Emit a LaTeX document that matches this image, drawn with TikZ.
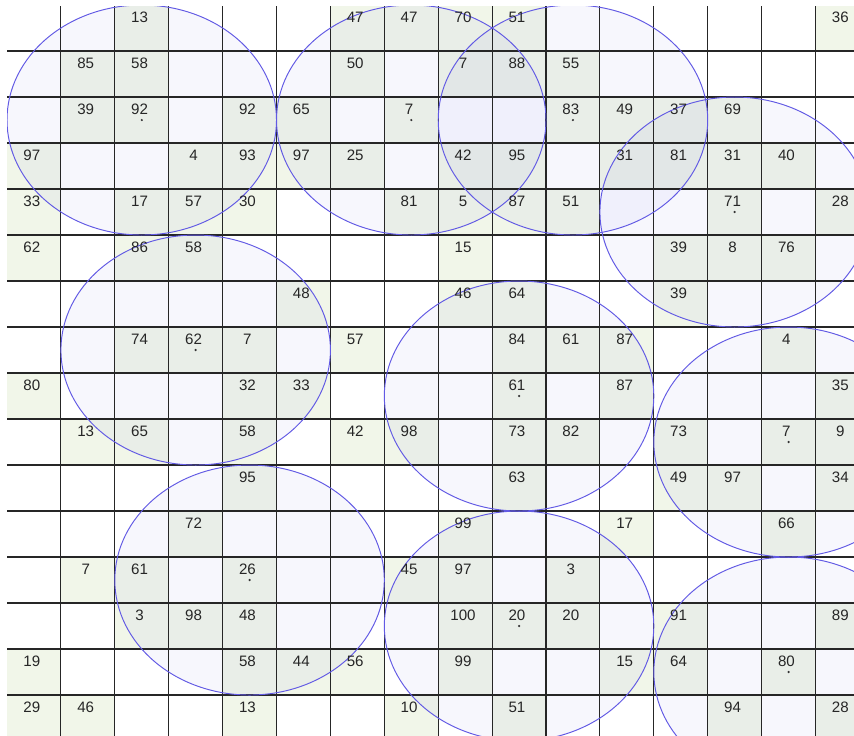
\documentclass[tikz,border=0pt]{standalone}
\usepackage{xcolor}
\usepackage{fontspec}
\setmainfont{Liberation Sans}
\usepackage{tikz}
\definecolor{cellgreen}{RGB}{241,246,233}
\definecolor{ringblue}{RGB}{98,90,228}
\definecolor{ringfill}{RGB}{120,120,225}
\tikzset{every node/.append style={font=\fontsize{8.6}{10}\selectfont}}
% column/row/value of every filled cell
\newcommand{\cellvalues}{2/0/13, 6/0/47, 7/0/47, 8/0/70, 9/0/51, 15/0/36,
  1/1/85, 2/1/58, 6/1/50, 8/1/7, 9/1/88, 10/1/55,
  1/2/39, 2/2/92, 4/2/92, 5/2/65, 7/2/7, 10/2/83, 11/2/49, 12/2/37, 13/2/69,
  0/3/97, 3/3/4, 4/3/93, 5/3/97, 6/3/25, 8/3/42, 9/3/95, 11/3/31, 12/3/81, 13/3/31, 14/3/40,
  0/4/33, 2/4/17, 3/4/57, 4/4/30, 7/4/81, 8/4/5, 9/4/87, 10/4/51, 13/4/71, 15/4/28,
  0/5/62, 2/5/86, 3/5/58, 8/5/15, 12/5/39, 13/5/8, 14/5/76,
  5/6/48, 8/6/46, 9/6/64, 12/6/39,
  2/7/74, 3/7/62, 4/7/7, 6/7/57, 9/7/84, 10/7/61, 11/7/87, 14/7/4,
  0/8/80, 4/8/32, 5/8/33, 9/8/61, 11/8/87, 15/8/35,
  1/9/13, 2/9/65, 4/9/58, 6/9/42, 7/9/98, 9/9/73, 10/9/82, 12/9/73, 14/9/7, 15/9/9,
  4/10/95, 9/10/63, 12/10/49, 13/10/97, 15/10/34,
  3/11/72, 8/11/99, 11/11/17, 14/11/66,
  1/12/7, 2/12/61, 4/12/26, 7/12/45, 8/12/97, 10/12/3,
  2/13/3, 3/13/98, 4/13/48, 8/13/100, 9/13/20, 10/13/20, 12/13/91, 15/13/89,
  0/14/19, 4/14/58, 5/14/44, 6/14/56, 8/14/99, 11/14/15, 12/14/64, 14/14/80,
  0/15/29, 1/15/46, 4/15/13, 7/15/10, 9/15/51, 13/15/94, 15/15/28}
\newcommand{\ringcentres}{2.5/2.5, 7.5/2.5, 10.5/2.5, 13.5/4.5, 3.5/7.5,
  9.5/8.5, 14.5/9.5, 4.5/12.5, 9.5/13.5, 14.5/14.5}

\begin{document}
\begin{tikzpicture}[x=1.078cm, y=-0.92cm]
    \useasboundingbox (-0.13,-0.109) rectangle (15.714,15.870);
    \clip (0,0.043) rectangle (15.714,15.870);
    \foreach \c/\r/\v in \cellvalues {\fill[cellgreen] (\c,\r) rectangle ++(1,1);}
    \foreach \x/\y in \ringcentres {\fill[ringfill, fill opacity=0.06] (\x,\y) circle (2.5);}
    \foreach \i in {1,...,15} {
        \draw[black!85, line width=0.65pt] (\i,0) -- (\i,16);
        \draw[black!85, line width=0.65pt] (0,\i) -- (16,\i);
    }
    \foreach \x/\y in \ringcentres {
        \draw[ringblue, line width=0.55pt] (\x,\y) circle (2.5);
        \fill[black!80] (\x,\y) circle (0.7pt);
    }
    \foreach \c/\r/\v in \cellvalues {\node[text=black!85] (v\c-\r) at (\c+0.46,\r+0.27) {\v};}
\end{tikzpicture}
\end{document}
